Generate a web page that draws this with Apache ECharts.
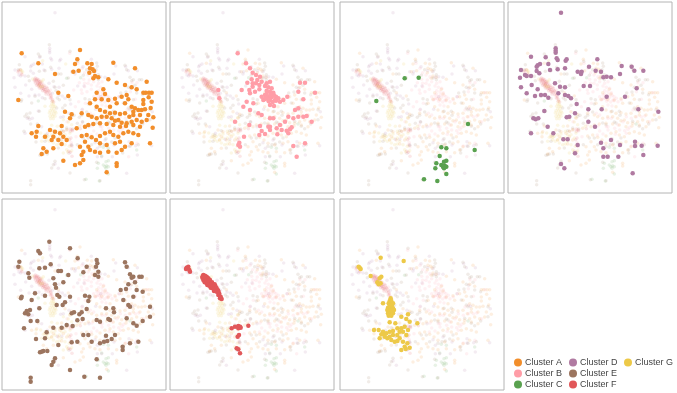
<!DOCTYPE html>
<html>
<head>
<meta charset="utf-8">
<script src="https://cdn.jsdelivr.net/npm/echarts@6/dist/echarts.min.js"></script>
<style>
  html, body { margin: 0; padding: 0; background: #fff; }
  #chart { width: 677px; height: 393px; }
</style>
</head>
<body>
<div id="chart"></div>
<script>
// embedding coords (arbitrary units, y grows downward)
var clusterA = [[59,154],[234,144],[109,184],[226,172],[219,186],[256,184],[269,186],[334,182],[399,199],[214,209],[230,206],[264,199],[272,202],[276,207],[262,212],[159,216],[279,222],[289,226],[274,229],[319,232],[344,242],[434,239],[369,249],[389,256],[404,262],[431,272],[441,272],[449,272],[424,272],[169,272],[49,294],[199,282],[284,272],[304,262],[309,276],[279,292],[299,292],[319,294],[339,290],[359,284],[379,292],[374,279],[369,304],[424,294],[449,299],[389,314],[399,319],[409,324],[419,324],[429,322],[394,329],[344,304],[324,314],[264,304],[284,314],[294,324],[309,329],[324,334],[339,332],[354,336],[369,334],[382,344],[394,339],[414,339],[439,339],[454,346],[189,329],[209,337],[239,334],[259,339],[269,344],[284,349],[299,344],[314,344],[329,349],[339,356],[349,354],[359,362],[374,364],[389,359],[404,354],[419,359],[434,354],[204,349],[179,372],[224,379],[249,374],[259,369],[274,366],[294,364],[314,366],[334,369],[354,374],[372,372],[394,369],[414,374],[452,377],[109,372],[104,389],[89,394],[144,384],[159,389],[174,394],[184,404],[129,404],[149,414],[169,414],[179,426],[194,414],[239,402],[254,399],[269,406],[282,414],[294,402],[309,394],[324,389],[334,399],[349,404],[364,394],[379,389],[394,394],[409,399],[249,419],[259,434],[234,434],[294,424],[314,429],[339,424],[354,419],[369,434],[389,424],[444,424],[124,439],[154,439],[119,456],[134,449],[244,449],[239,459],[264,444],[279,449],[294,452],[319,449],[344,452],[359,444],[244,474],[184,476],[234,484],[219,489],[344,484],[344,492],[314,511],[102,404],[154,404],[424,306],[440,286],[446,318]];

var clusterB = [[203,154],[228,184],[240,199],[248,212],[258,219],[270,224],[245,232],[262,234],[275,239],[290,244],[300,239],[285,252],[295,256],[305,259],[290,266],[300,269],[310,272],[285,279],[295,284],[305,286],[318,284],[300,294],[315,294],[325,289],[300,309],[312,312],[215,264],[238,264],[248,254],[240,274],[255,269],[268,262],[275,284],[340,294],[352,284],[330,299],[390,242],[405,242],[435,272],[385,269],[400,292],[145,264],[148,289],[230,299],[250,304],[220,314],[240,324],[265,334],[275,339],[300,349],[310,349],[345,359],[355,344],[370,349],[385,344],[400,344],[410,342],[375,324],[385,319],[425,359],[195,359],[238,369],[270,372],[275,387],[295,374],[300,384],[320,379],[335,384],[350,386],[360,382],[365,376],[222,404],[268,399],[285,396],[208,422],[210,434],[205,429],[370,432],[405,424],[380,464],[322,397],[330,369],[300,374],[355,394],[283,292],[292,290],[280,294],[268,249],[258,244],[232,242],[248,244],[290,276],[302,278],[312,280],[296,298],[308,300],[318,296],[288,288]];

var clusterC = [[194,229],[236,227],[109,297],[384,366],[404,444],[304,436],[319,439],[299,462],[312,479],[319,476],[289,484],[304,489],[314,491],[309,494],[286,499],[319,494],[312,499],[319,516],[252,532],[292,537]];

var clusterD = [[159,32],[143,139],[143,146],[143,152],[69,164],[113,166],[146,169],[149,174],[176,172],[173,176],[96,186],[89,190],[86,194],[121,186],[39,204],[51,219],[56,222],[36,227],[69,222],[86,207],[94,214],[126,204],[149,202],[171,199],[209,209],[221,209],[219,216],[243,194],[268,172],[263,206],[279,209],[296,224],[286,226],[309,226],[341,192],[371,194],[379,206],[406,206],[336,216],[71,249],[39,256],[89,262],[141,244],[156,254],[151,274],[171,256],[227,252],[246,252],[56,274],[81,282],[99,279],[111,279],[121,287],[171,279],[181,282],[189,289],[206,306],[241,322],[281,322],[296,284],[351,284],[386,259],[391,322],[451,329],[109,327],[201,334],[76,349],[83,352],[91,349],[176,346],[184,344],[119,374],[241,359],[261,374],[69,394],[136,394],[166,412],[179,412],[209,429],[201,454],[279,422],[286,439],[286,464],[299,464],[309,414],[336,429],[331,464],[381,419],[381,432],[401,431],[406,459],[449,431],[159,486],[169,499],[374,514]];

var clusterE = [[142,128],[204,148],[109,156],[114,163],[227,178],[52,188],[49,203],[112,208],[129,206],[146,196],[169,216],[177,216],[254,203],[284,183],[286,193],[282,203],[289,218],[279,228],[289,233],[369,190],[374,203],[384,226],[389,236],[394,233],[412,233],[419,233],[399,250],[379,256],[404,273],[79,223],[82,236],[154,238],[159,256],[162,266],[184,250],[199,228],[244,220],[99,283],[59,293],[57,298],[89,303],[129,290],[166,288],[172,293],[189,310],[204,293],[249,290],[262,293],[259,306],[356,273],[372,270],[422,278],[394,293],[364,303],[379,318],[384,323],[444,323],[444,353],[422,366],[74,336],[84,333],[69,343],[79,346],[112,328],[164,318],[182,318],[209,343],[216,340],[232,346],[239,340],[254,330],[312,328],[334,328],[336,340],[319,360],[324,363],[86,366],[106,366],[66,388],[134,400],[154,386],[179,386],[194,378],[212,381],[226,364],[242,360],[284,363],[294,368],[374,358],[394,373],[404,380],[102,420],[129,418],[169,438],[209,430],[226,428],[244,408],[259,408],[269,428],[294,433],[312,410],[316,426],[306,428],[329,420],[339,408],[362,443],[362,453],[384,433],[409,428],[124,456],[114,460],[119,458],[136,456],[159,478],[154,488],[149,498],[284,481],[204,513],[247,533],[294,536],[86,536],[86,548]];

var clusterF = [[50,206],[55,203],[48,210],[58,213],[60,218],[100,228],[105,230],[110,233],[97,236],[102,238],[108,240],[115,238],[100,243],[106,246],[112,246],[118,248],[104,250],[110,253],[116,253],[122,253],[128,256],[112,258],[118,260],[124,260],[130,263],[136,260],[122,266],[128,268],[135,270],[140,268],[132,276],[140,278],[146,280],[145,288],[150,298],[155,300],[112,250],[120,243],[107,235],[113,240],[98,232],[126,250],[134,256],[138,266],[144,274],[148,284],[152,293],[103,234],[109,244],[115,244],[121,258],[127,262],[131,270],[185,388],[195,383],[205,381],[212,386],[205,388],[210,383],[235,380],[203,413],[207,408],[200,448],[205,451],[210,463]];

var clusterG = [[59,206],[62,210],[56,203],[122,176],[191,186],[92,231],[119,238],[124,233],[112,250],[116,256],[122,253],[152,298],[149,306],[154,306],[146,313],[154,313],[159,313],[149,320],[156,320],[144,326],[152,328],[159,328],[142,333],[149,336],[156,336],[144,343],[152,343],[159,343],[146,350],[154,350],[129,313],[162,333],[149,370],[166,373],[184,353],[204,346],[199,360],[209,368],[232,373],[102,393],[116,393],[129,398],[139,403],[149,398],[159,396],[172,388],[184,388],[194,383],[204,393],[189,398],[119,418],[134,413],[142,418],[154,423],[164,428],[172,426],[179,418],[189,428],[199,408],[202,433],[209,446],[194,443],[184,453],[197,450],[134,406],[149,413],[124,406],[159,408],[172,408],[179,398]];

var clusterNames = ['Cluster A', 'Cluster B', 'Cluster C', 'Cluster D', 'Cluster E', 'Cluster F', 'Cluster G'];
var clusterData = [clusterA, clusterB, clusterC, clusterD, clusterE, clusterF, clusterG];
var colors = ['#f28e2b', '#ff9da7', '#59a14f', '#b07aa1', '#9c755f', '#e15759', '#edc948'];

var chart = echarts.init(document.getElementById('chart'));

var colLeft = [2, 170, 340, 508];
var rowTop = [2, 199];
var grids = [], xAxes = [], yAxes = [], series = [];

for (var p = 0; p < clusterNames.length; p++) {
    grids.push({
        left: colLeft[p % 4], top: rowTop[Math.floor(p / 4)],
        width: 164, height: 191,
        show: true, borderColor: '#b4b4b4', borderWidth: 1, backgroundColor: '#fff'
    });
    xAxes.push({ gridIndex: p, type: 'value', min: 0, max: 492, show: false });
    yAxes.push({ gridIndex: p, type: 'value', min: 0, max: 573, inverse: true, show: false });

    // everything faded in the back
    for (var c = 0; c < clusterData.length; c++) {
        if (c === p) continue;
        series.push({
            name: 'bg' + p + '-' + c,
            type: 'scatter', xAxisIndex: p, yAxisIndex: p,
            data: clusterData[c], symbolSize: 3.5, silent: true,
            itemStyle: { color: colors[c], opacity: 0.14 }
        });
    }
    // highlighted cluster on top
    series.push({
        name: clusterNames[p],
        type: 'scatter', xAxisIndex: p, yAxisIndex: p,
        data: clusterData[p], symbolSize: 4.5, silent: true, z: 5,
        itemStyle: { color: colors[p], opacity: 1 }
    });
}

// legend: three columns
var legendCols = [clusterNames.slice(0, 3), clusterNames.slice(3, 6), clusterNames.slice(6)];
var legendLeft = [514, 569, 624];
var legends = legendCols.map(function (names, i) {
    return {
        data: names,
        orient: 'vertical',
        left: legendLeft[i], top: 358,
        padding: 0,
        icon: 'circle', itemWidth: 8, itemHeight: 8, itemGap: 2,
        selectedMode: false,
        textStyle: { fontFamily: 'Liberation Sans', fontSize: 9, color: '#444', padding: [0, 0, 0, -2] }
    };
});

chart.setOption({
    animation: false,
    grid: grids,
    xAxis: xAxes,
    yAxis: yAxes,
    legend: legends,
    series: series
});
</script>
</body>
</html>
